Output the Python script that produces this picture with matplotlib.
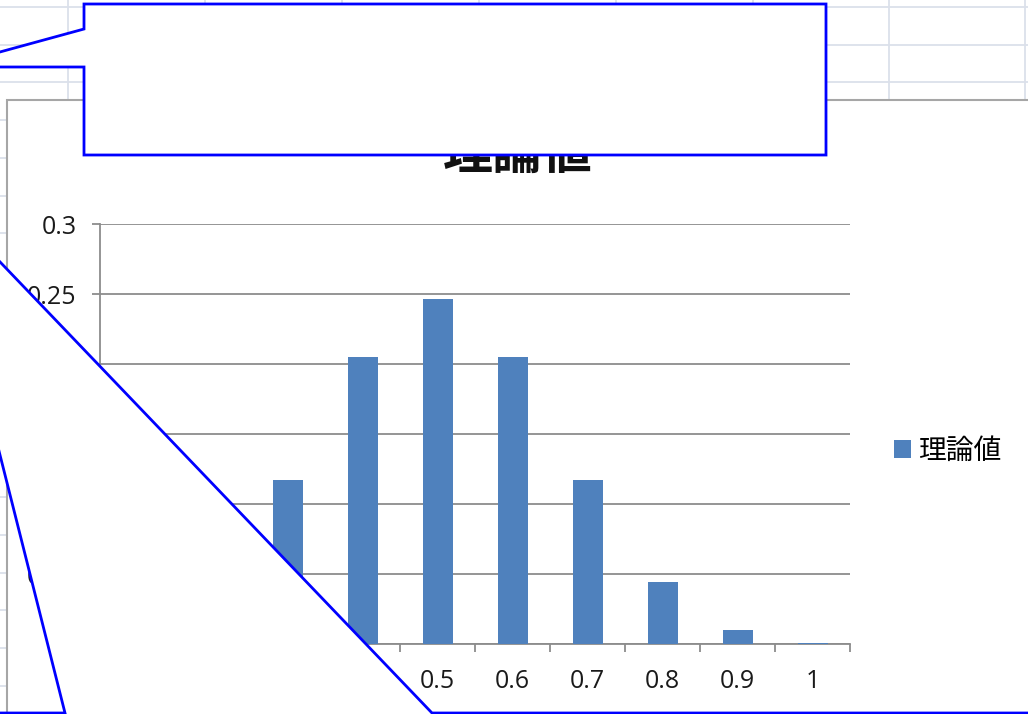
import matplotlib
matplotlib.use("Agg")
import matplotlib.pyplot as plt
from matplotlib.patches import Rectangle, Polygon

plt.rcParams['font.family'] = ['Open Sans', 'Noto Sans CJK JP', 'DejaVu Sans']

# 理論値（二項分布 n=10, p=0.5）
categories = ['0.1', '0.2', '0.3', '0.4', '0.5', '0.6', '0.7', '0.8', '0.9', '1']
theory = [0.009766, 0.043945, 0.117188, 0.205078, 0.246094,
          0.205078, 0.117188, 0.043945, 0.009766, 0.000977]
yticks = [0, 0.05, 0.1, 0.15, 0.2, 0.25, 0.3]
ytick_labels = ['0', '0.05', '0.1', '0.15', '0.2', '0.25', '0.3']
title = '理論値'

W, H = 1028, 714
fig = plt.figure(figsize=(W / 100, H / 100), dpi=100)


def px_rect(x0, y0, x1, y1):
    return [x0 / W, 1 - y1 / H, (x1 - x0) / W, (y1 - y0) / H]


# シートの罫線とグラフエリア
bg = fig.add_axes([0, 0, 1, 1], zorder=0)
bg.set_xlim(0, W)
bg.set_ylim(H, 0)
bg.axis('off')
grid_c = '#dbe0ea'
y = 7.0
while y < H:
    bg.plot([0, W], [y, y], color=grid_c, lw=1.3, zorder=1)
    y += 37.7
for x in [68, 205, 342, 479, 616, 753, 889, 1025]:
    bg.plot([x, x], [0, H], color=grid_c, lw=1.3, zorder=1)
bg.add_patch(Rectangle((7, 100), W + 20, H, facecolor='white',
                       edgecolor='#a6a6a6', lw=1.5, zorder=5))

# 棒グラフ本体
ax = fig.add_axes(px_rect(100, 224, 850, 644), zorder=1)
xs = list(range(len(categories)))
ax.bar(xs, theory, width=0.4, color='#4f81bd', zorder=3, label=title)
ax.set_xlim(-0.5, len(categories) - 0.5)
ax.set_ylim(0, 0.3)
ax.set_yticks(yticks)
ax.set_yticklabels(ytick_labels)
ax.set_xticks(xs)
ax.set_xticklabels(categories)
ax.set_xticks([i - 0.5 for i in range(len(categories) + 1)], minor=True)
ax.yaxis.grid(True, color='#8c8c8c', lw=1.3)
ax.set_axisbelow(True)
for s in ['top', 'right']:
    ax.spines[s].set_visible(False)
for s in ['left', 'bottom']:
    ax.spines[s].set_color('#8c8c8c')
    ax.spines[s].set_linewidth(1.3)
ax.tick_params(axis='y', length=6, width=1.3, color='#8c8c8c',
               labelsize=18, labelcolor='#1a1a1a', pad=11)
ax.tick_params(axis='x', which='major', length=0, labelsize=18,
               labelcolor='#1a1a1a', pad=18)
ax.tick_params(axis='x', which='minor', length=6, width=1.3, color='#8c8c8c')

ax.legend(loc='center left', bbox_to_anchor=(894 / W, 1 - 452 / H),
          bbox_transform=fig.transFigure, frameon=False, fontsize=20,
          handlelength=0.6, handleheight=0.6, handletextpad=0.25,
          borderaxespad=0, borderpad=0)

fig.text(518 / W, 1 - 156 / H, title, ha='center', va='center',
         fontsize=36, fontweight='bold', color='#111111', zorder=2)

# 吹き出し図形
ov = fig.add_axes([0, 0, 1, 1], zorder=10)
ov.set_xlim(0, W)
ov.set_ylim(H, 0)
ov.axis('off')
ov.patch.set_alpha(0)
blue = '#0000ff'
ov.add_patch(Polygon([(84, 4), (826, 4), (826, 155), (84, 155), (84, 67),
                      (-55, 67), (84, 29)], closed=True,
                     facecolor='white', edgecolor=blue, lw=2.0))
ov.add_patch(Polygon([(-10, 713), (65, 713), (-66, 193), (432, 713),
                      (W + 10, 713), (W + 10, 800), (-10, 800)], closed=True,
                     facecolor='white', edgecolor=blue, lw=2.0))

fig.savefig('out.png', dpi=100)
